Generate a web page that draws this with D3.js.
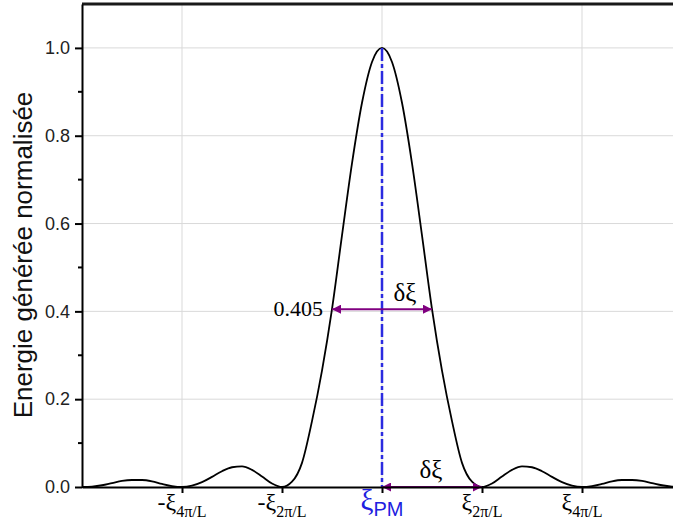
<!DOCTYPE html>
<html><head><meta charset="utf-8">
<script src="https://cdn.jsdelivr.net/npm/d3@7"></script>
<style>body{margin:0;background:#fff}svg{display:block}</style>
</head><body>
<svg id="chart" width="673" height="526"></svg>
<script>
// data (phase mismatch in units of 2π/L, normalised generated energy)
const xValues = [-3.0,-2.9,-2.8,-2.7,-2.6,-2.5,-2.4,-2.3,-2.2,-2.1,-2.0,-1.9,-1.8,-1.7,-1.6,-1.5,-1.4,-1.3,-1.2,-1.1,-1.0,-0.9,-0.8,-0.7,-0.6,-0.5,-0.4,-0.3,-0.2,-0.1,0,
  0.1,0.2,0.3,0.4,0.5,0.6,0.7,0.8,0.9,1.0,1.1,1.2,1.3,1.4,1.5,1.6,1.7,1.8,1.9,2.0,2.1,2.2,2.3,2.4,2.5,2.6,2.7,2.8,2.9,3.0];
const energy = [0,0.001,0.004,0.009,0.014,0.016,0.016,0.013,0.007,0.002,0,0.003,0.011,0.023,0.036,0.045,0.047,0.039,0.024,0.008,0,0.012,0.055,0.15,0.265,0.405,0.573,0.737,0.875,0.968,1,
  0.968,0.875,0.737,0.573,0.405,0.265,0.15,0.055,0.012,0,0.008,0.024,0.039,0.047,0.045,0.036,0.023,0.011,0.003,0,0.002,0.007,0.013,0.016,0.016,0.014,0.009,0.004,0.001,0];
const xTickValues = [-2,-1,0,1,2];
const xTickLabels = [["-ξ","4π/L"],["-ξ","2π/L"],["ξ","PM"],["ξ","2π/L"],["ξ","4π/L"]];
const xGridValues = [-2,0,2];
const yTickValues = [0,0.2,0.4,0.6,0.8,1.0];
const yMinorValues = [0.1,0.3,0.5,0.7,0.9];
const halfLevel = 0.405;
const halfWidth = [-0.5,0.5];
const zeroArrow = [0,1];
const yTitle = "Energie générée normalisée";

const svg = d3.select("#chart");
const x = d3.scaleLinear().domain([-3,3]).range([82,682]);
const y = d3.scaleLinear().domain([0,1.1]).range([487,4]);

// grid
svg.append("g").selectAll("line").data(yTickValues.slice(1)).join("line")
  .attr("x1",x(-3)).attr("x2",673).attr("y1",d=>y(d)).attr("y2",d=>y(d))
  .attr("stroke","#d9d9d9").attr("stroke-width",1);
svg.append("g").selectAll("line").data(xGridValues).join("line")
  .attr("x1",d=>x(d)).attr("x2",d=>x(d)).attr("y1",y(0)).attr("y2",y(1.1))
  .attr("stroke","#d9d9d9").attr("stroke-width",1);

// arrow marker
const defs = svg.append("defs");
defs.append("marker").attr("id","arr").attr("viewBox","0 0 10 10").attr("refX",10).attr("refY",5)
  .attr("markerWidth",6.5).attr("markerHeight",4.5).attr("markerUnits","strokeWidth").attr("orient","auto-start-reverse")
  .append("path").attr("d","M0,0 L10,5 L0,10 Z").attr("fill","#800080");

// curve
const line = d3.line().x((d,i)=>x(xValues[i])).y(d=>y(d)).curve(d3.curveMonotoneX);
svg.append("path").datum(energy).attr("d",line).attr("fill","none").attr("stroke","#000").attr("stroke-width",1.8);

// dash-dot phase matching line
svg.append("line").attr("x1",x(0)).attr("x2",x(0)).attr("y1",y(1)).attr("y2",y(0))
  .attr("stroke","#2b2be0").attr("stroke-width",2.5).attr("stroke-dasharray","13,3,4,3");

// arrows
svg.append("line").attr("x1",x(halfWidth[0])).attr("x2",x(halfWidth[1])).attr("y1",y(halfLevel)).attr("y2",y(halfLevel))
  .attr("stroke","#800080").attr("stroke-width",2).attr("marker-start","url(#arr)").attr("marker-end","url(#arr)");
svg.append("line").attr("x1",x(zeroArrow[0])).attr("x2",x(zeroArrow[1])).attr("y1",y(0)).attr("y2",y(0))
  .attr("stroke","#800080").attr("stroke-width",2).attr("marker-start","url(#arr)").attr("marker-end","url(#arr)");

// annotations
const serif = "'Liberation Serif','DejaVu Serif',serif";
const sans = "'Liberation Sans',Arial,sans-serif";
svg.append("text").attr("x",x(halfWidth[0])-9).attr("y",y(halfLevel)+7).attr("text-anchor","end")
  .attr("font-family",serif).attr("font-size",22).text(halfLevel.toFixed(3));
svg.append("text").attr("x",x(0.23)).attr("y",y(halfLevel)-8).attr("text-anchor","middle")
  .attr("font-family",serif).attr("font-size",25).text("δξ");
svg.append("text").attr("x",x(0.49)).attr("y",y(0)-9).attr("text-anchor","middle")
  .attr("font-family",serif).attr("font-size",25).text("δξ");

// axes
svg.append("line").attr("x1",x(-3)).attr("x2",673).attr("y1",y(1.1)).attr("y2",y(1.1)).attr("stroke","#1a1a1a").attr("stroke-width",3);
const yAxis = svg.append("g").attr("transform",`translate(${x(-3)},0)`)
  .call(d3.axisLeft(y).tickValues(yTickValues).tickFormat(d3.format(".1f")).tickSize(7).tickSizeOuter(0));
yAxis.select(".domain").attr("stroke","#000").attr("stroke-width",2);
yAxis.selectAll(".tick line").attr("stroke-width",2);
yAxis.selectAll("text").attr("font-family",sans).attr("font-size",18).attr("fill","#222").attr("dx",-2);
svg.append("g").attr("transform",`translate(${x(-3)},0)`)
  .selectAll("line").data(yMinorValues).join("line")
  .attr("x1",-4).attr("x2",0).attr("y1",d=>y(d)).attr("y2",d=>y(d)).attr("stroke","#000").attr("stroke-width",2);

const xAxis = svg.append("g").attr("transform",`translate(0,${y(0)})`)
  .call(d3.axisBottom(x).tickValues(xTickValues).tickFormat("").tickSize(6).tickSizeOuter(0));
xAxis.select(".domain").attr("stroke","#000").attr("stroke-width",2);
xAxis.selectAll(".tick line").attr("stroke-width",2);

// x tick labels with subscripts
xTickValues.forEach((v,i)=>{
  const lab = xTickLabels[i];
  const isPM = lab[1]==="PM";
  const t = svg.append("text").attr("x",x(v)).attr("y",510).attr("text-anchor","middle")
    .attr("fill",isPM?"#2020e0":"#000");
  t.append("tspan").attr("font-family",serif).attr("font-size",isPM?29:24).text(lab[0]);
  t.append("tspan").attr("dy",isPM?6:7)
    .attr("font-family",isPM?sans:serif)
    .attr("font-size",isPM?20:16).text(lab[1]);
});

svg.append("text").attr("transform",`translate(32,255) rotate(-90)`).attr("text-anchor","middle")
  .attr("font-family",sans).attr("font-size",26).attr("fill","#111").text(yTitle);
</script>
</body></html>
